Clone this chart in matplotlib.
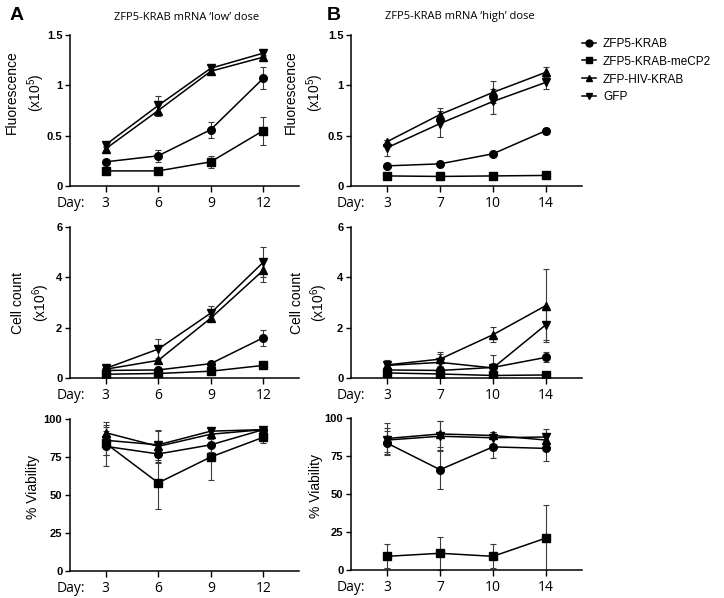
import matplotlib
matplotlib.use("Agg")
import matplotlib.pyplot as plt
from matplotlib.lines import Line2D

plt.rcParams['font.family'] = ['Liberation Sans', 'DejaVu Sans']
plt.rcParams['mathtext.fontset'] = 'custom'
plt.rcParams['mathtext.rm'] = 'Liberation Sans'
plt.rcParams['mathtext.default'] = 'regular'

# ---------------- data ----------------
series_names = ['ZFP5-KRAB', 'ZFP5-KRAB-meCP2', 'ZFP-HIV-KRAB', 'GFP']
series_markers = ['o', 's', '^', 'v']

days_low = ['3', '6', '9', '12']
days_high = ['3', '7', '10', '14']

# Fluorescence (x10^5) - low dose
fl_low_zfp5 = [0.24, 0.30, 0.56, 1.07]
fl_low_zfp5_err = [0.02, 0.06, 0.08, 0.11]
fl_low_mecp2 = [0.15, 0.15, 0.24, 0.55]
fl_low_mecp2_err = [0.01, 0.01, 0.06, 0.14]
fl_low_hiv = [0.37, 0.75, 1.14, 1.28]
fl_low_hiv_err = [0.03, 0.05, 0.02, 0.02]
fl_low_gfp = [0.41, 0.80, 1.17, 1.32]
fl_low_gfp_err = [0.02, 0.09, 0.02, 0.03]

# Fluorescence (x10^5) - high dose
fl_high_zfp5 = [0.20, 0.22, 0.32, 0.55]
fl_high_zfp5_err = [0.01, 0.01, 0.01, 0.03]
fl_high_mecp2 = [0.10, 0.095, 0.10, 0.105]
fl_high_mecp2_err = [0.005, 0.005, 0.005, 0.005]
fl_high_hiv = [0.44, 0.71, 0.93, 1.13]
fl_high_hiv_err = [0.02, 0.06, 0.11, 0.05]
fl_high_gfp = [0.38, 0.62, 0.84, 1.03]
fl_high_gfp_err = [0.08, 0.13, 0.12, 0.07]

# Cell count (x10^6) - low dose
cc_low_zfp5 = [0.30, 0.32, 0.57, 1.60]
cc_low_zfp5_err = [0.05, 0.05, 0.05, 0.32]
cc_low_mecp2 = [0.15, 0.18, 0.27, 0.50]
cc_low_mecp2_err = [0.02, 0.02, 0.03, 0.05]
cc_low_hiv = [0.35, 0.70, 2.38, 4.28]
cc_low_hiv_err = [0.05, 0.10, 0.10, 0.45]
cc_low_gfp = [0.38, 1.15, 2.58, 4.60]
cc_low_gfp_err = [0.05, 0.40, 0.30, 0.60]

# Cell count (x10^6) - high dose
cc_high_zfp5 = [0.32, 0.30, 0.42, 0.82]
cc_high_zfp5_err = [0.05, 0.05, 0.05, 0.20]
cc_high_mecp2 = [0.20, 0.16, 0.10, 0.12]
cc_high_mecp2_err = [0.03, 0.03, 0.02, 0.02]
cc_high_hiv = [0.52, 0.75, 1.72, 2.88]
cc_high_hiv_err = [0.20, 0.28, 0.30, 1.45]
cc_high_gfp = [0.50, 0.62, 0.40, 2.12]
cc_high_gfp_err = [0.15, 0.35, 0.50, 0.60]

# Viability (%) - low dose
vi_low_zfp5 = [82, 77, 83, 93]
vi_low_zfp5_err = [13, 6, 5, 2]
vi_low_mecp2 = [84, 58, 75, 88]
vi_low_mecp2_err = [8, 17, 15, 4]
vi_low_hiv = [91, 82, 90, 93]
vi_low_hiv_err = [7, 10, 3, 2]
vi_low_gfp = [86, 83, 92, 93]
vi_low_gfp_err = [10, 10, 2, 1]

# Viability (%) - high dose
vi_high_zfp5 = [83.5, 66, 81, 80]
vi_high_zfp5_err = [8, 13, 7, 8]
vi_high_mecp2 = [9, 11, 9, 21]
vi_high_mecp2_err = [8, 11, 8, 22]
vi_high_hiv = [86.5, 89.5, 88.5, 85.5]
vi_high_hiv_err = [10.5, 8.5, 2.5, 3]
vi_high_gfp = [85.5, 88, 87, 87.5]
vi_high_gfp_err = [8, 10, 4, 5]

low_fl = [(fl_low_zfp5, fl_low_zfp5_err), (fl_low_mecp2, fl_low_mecp2_err),
          (fl_low_hiv, fl_low_hiv_err), (fl_low_gfp, fl_low_gfp_err)]
high_fl = [(fl_high_zfp5, fl_high_zfp5_err), (fl_high_mecp2, fl_high_mecp2_err),
           (fl_high_hiv, fl_high_hiv_err), (fl_high_gfp, fl_high_gfp_err)]
low_cc = [(cc_low_zfp5, cc_low_zfp5_err), (cc_low_mecp2, cc_low_mecp2_err),
          (cc_low_hiv, cc_low_hiv_err), (cc_low_gfp, cc_low_gfp_err)]
high_cc = [(cc_high_zfp5, cc_high_zfp5_err), (cc_high_mecp2, cc_high_mecp2_err),
           (cc_high_hiv, cc_high_hiv_err), (cc_high_gfp, cc_high_gfp_err)]
low_vi = [(vi_low_zfp5, vi_low_zfp5_err), (vi_low_mecp2, vi_low_mecp2_err),
          (vi_low_hiv, vi_low_hiv_err), (vi_low_gfp, vi_low_gfp_err)]
high_vi = [(vi_high_zfp5, vi_high_zfp5_err), (vi_high_mecp2, vi_high_mecp2_err),
           (vi_high_hiv, vi_high_hiv_err), (vi_high_gfp, vi_high_gfp_err)]

# ---------------- figure ----------------
W, H = 724, 598
fig = plt.figure(figsize=(W / 100, H / 100), dpi=100)


def px_axes(x0, x1, ytop, ybot):
    return fig.add_axes([x0 / W, 1 - ybot / H, (x1 - x0) / W, (ybot - ytop) / H])


XFONT = dict(family=['Open Sans', 'DejaVu Sans'], size=10)
YTFONT = dict(family=['Liberation Sans', 'DejaVu Sans'], size=8, weight='bold')
LABFONT = dict(family=['Liberation Sans', 'DejaVu Sans'], size=10)


def style_axes(ax, days, ylim, yticks, yticklabels, ylabel, lab_x, lab_y, day_x, linesp):
    ax.set_xlim(-0.68, 3.68)
    ax.set_ylim(*ylim)
    for s in ['top', 'right']:
        ax.spines[s].set_visible(False)
    for s in ['left', 'bottom']:
        ax.spines[s].set_linewidth(1.1)
    ax.set_xticks(range(len(days)))
    ax.set_xticklabels(days, **XFONT)
    ax.set_yticks(yticks)
    ax.set_yticklabels(yticklabels, **YTFONT)
    ax.tick_params(axis='x', direction='out', length=4, width=1.0, pad=3)
    ax.tick_params(axis='y', direction='out', length=3.5, width=1.0, pad=2)
    ax.set_ylabel(ylabel, linespacing=linesp, **LABFONT)
    ax.yaxis.set_label_coords(lab_x, lab_y)
    ax.annotate('Day:', xy=(day_x, 0), xycoords='axes fraction',
                xytext=(0, -7), textcoords='offset points',
                ha='right', va='top', **XFONT)


def draw(ax, days, data):
    for (vals, errs), m in zip(data, series_markers):
        ax.errorbar(days, vals, yerr=errs, fmt='none', ecolor='#3a3a3a',
                    elinewidth=0.8, capsize=2.2, capthick=0.8, zorder=2)
    for (vals, errs), m in zip(data, series_markers):
        ax.plot(days, vals, color='black', lw=1.1, marker=m, ms=5.5,
                mfc='black', mec='black', zorder=3)


fl_ticks = [0, 0.5, 1.0, 1.5]
fl_tl = ['0', '0.5', '1', '1.5']
cc_ticks = [0, 2, 4, 6]
cc_tl = ['0', '2', '4', '6']
vi_ticks = [0, 25, 50, 75, 100]
vi_tl = ['0', '25', '50', '75', '100']

fl_label = 'Fluorescence\n(x10$^{5}$)'
cc_label = 'Cell count\n(x10$^{6}$)'
vi_label = '% Viability'

# Panel A
axA1 = px_axes(70, 299, 35, 186)
draw(axA1, days_low, low_fl)
style_axes(axA1, days_low, (0, 1.5), fl_ticks, fl_tl, fl_label, -0.10, 0.62, 0.066, 1.4)

axA2 = px_axes(70, 299, 227, 378)
draw(axA2, days_low, low_cc)
style_axes(axA2, days_low, (0, 6), cc_ticks, cc_tl, cc_label, -0.08, 0.50, 0.066, 1.3)

axA3 = px_axes(70, 299, 419, 571)
draw(axA3, days_low, low_vi)
style_axes(axA3, days_low, (0, 100), vi_ticks, vi_tl, vi_label, -0.13, 0.55, 0.066, 1.2)

# Panel B
axB1 = px_axes(351, 582, 35, 186)
draw(axB1, days_high, high_fl)
style_axes(axB1, days_high, (0, 1.5), fl_ticks, fl_tl, fl_label, -0.11, 0.62, 0.061, 1.4)

axB2 = px_axes(351, 582, 227, 378)
draw(axB2, days_high, high_cc)
style_axes(axB2, days_high, (0, 6), cc_ticks, cc_tl, cc_label, -0.09, 0.50, 0.061, 1.3)

axB3 = px_axes(351, 582, 418, 570)
draw(axB3, days_high, high_vi)
style_axes(axB3, days_high, (0, 100), vi_ticks, vi_tl, vi_label, -0.12, 0.55, 0.061, 1.2)

# Panel letters and titles
fig.text(10 / W, 1 - 16 / H, 'A', fontsize=14, fontweight='bold', va='center', ha='left',
         family=['Liberation Sans', 'DejaVu Sans'])
fig.text(327 / W, 1 - 16 / H, 'B', fontsize=14, fontweight='bold', va='center', ha='left',
         family=['Liberation Sans', 'DejaVu Sans'])
fig.text(187 / W, 1 - 17 / H, 'ZFP5-KRAB mRNA \u2018low\u2019 dose', fontsize=8, ha='center',
         va='center', family=['Open Sans', 'DejaVu Sans'])
fig.text(460 / W, 1 - 17 / H, 'ZFP5-KRAB mRNA \u2018high\u2019 dose', fontsize=8, ha='center',
         va='center', family=['Open Sans', 'DejaVu Sans'])

# Legend
handles = [Line2D([0], [0], color='black', lw=1.1, marker=m, ms=5, mfc='black', mec='black')
           for m in series_markers]
fig.legend(handles, series_names, loc='upper left', bbox_to_anchor=(577 / W, 1 - 33 / H),
           frameon=False, handlelength=1.2, handletextpad=0.6, labelspacing=0.5,
           prop=dict(family=['Liberation Sans', 'DejaVu Sans'], size=8.5), borderaxespad=0)

fig.savefig('out.png', dpi=100)
